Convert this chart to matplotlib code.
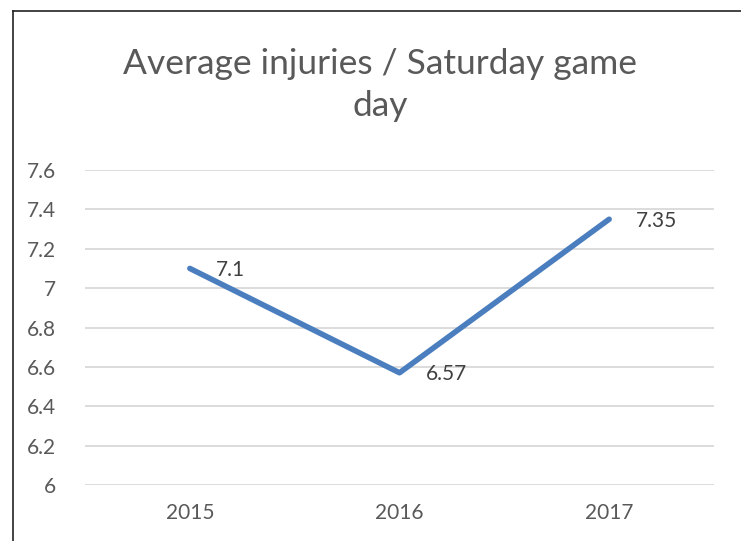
import matplotlib.pyplot as plt
from matplotlib.lines import Line2D

# Chart data
years = ["2015", "2016", "2017"]
injuries = [7.1, 6.57, 7.35]
yticks = [6, 6.2, 6.4, 6.6, 6.8, 7, 7.2, 7.4, 7.6]
ytick_labels = ["6", "6.2", "6.4", "6.6", "6.8", "7", "7.2", "7.4", "7.6"]

plt.rcParams["font.family"] = ["Lato", "DejaVu Sans"]

W, H = 741, 541
fig = plt.figure(figsize=(W / 100, H / 100), dpi=100)

# plot area in pixel coords -> figure fraction
left, right, top, bottom = 85, 714, 170, 485
ax = fig.add_axes([left / W, (H - bottom) / H, (right - left) / W, (bottom - top) / H])

x = list(range(len(years)))
ax.plot(x, injuries, color="#4A7EBF", linewidth=4, solid_capstyle="round",
        solid_joinstyle="round", zorder=3)

for xi, v in zip(x, injuries):
    ax.annotate(f"{v:g}", (xi, v), xytext=(19, -1), textcoords="offset points",
                ha="left", va="center", fontsize=15, color="#404040")

ax.set_xlim(-0.5, len(years) - 0.5)
ax.set_ylim(6, 7.6)
ax.set_yticks(yticks)
ax.set_yticklabels(ytick_labels)
ax.set_xticks(x)
ax.set_xticklabels(years)
ax.tick_params(axis="both", length=0, labelsize=15, labelcolor="#595959")
ax.tick_params(axis="y", pad=21)
ax.tick_params(axis="x", pad=13)
ax.grid(axis="y", color="#D9D9D9", linewidth=1.3)
ax.set_axisbelow(True)
for s in ax.spines.values():
    s.set_visible(False)

fig.text(380 / W, 1 - 85 / H, "Average injuries / Saturday game\nday", ha="center",
         va="center", fontsize=25.5, color="#595959", linespacing=1.4)

# outer chart frame (left and top edges visible in the screenshot)
fig.add_artist(Line2D([13.5 / W, 13.5 / W], [0, 1 - 10.5 / H], color="#222222",
                      linewidth=1.2, transform=fig.transFigure))
fig.add_artist(Line2D([13.5 / W, 1], [1 - 10.5 / H, 1 - 10.5 / H], color="#222222",
                      linewidth=1.2, transform=fig.transFigure))

fig.savefig("out.png", dpi=100)
